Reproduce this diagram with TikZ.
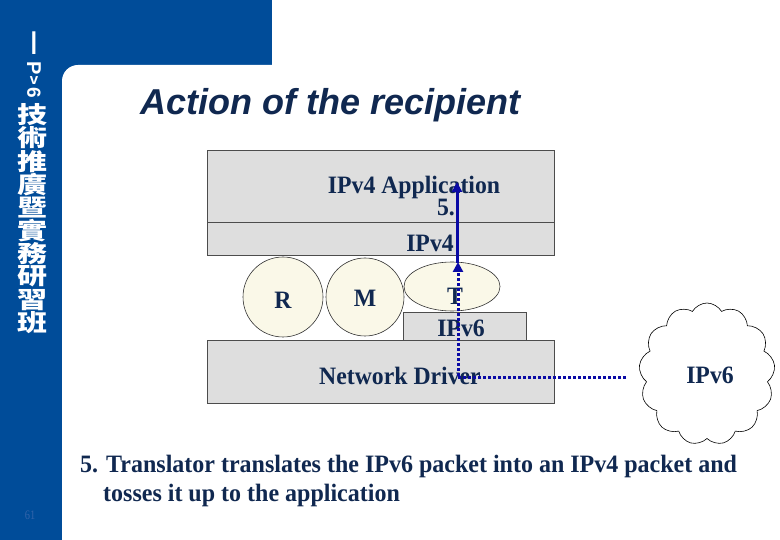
\documentclass[tikz,border=0pt]{standalone}
\usepackage{fontspec}
\setmainfont{Liberation Serif}
\newfontfamily\sansf{Liberation Sans}
\newfontfamily\condserif{Liberation Serif}[FakeStretch=0.95]
\newfontfamily\capserif{Liberation Serif}[FakeStretch=0.96]
\newfontfamily\narrowserif{Liberation Serif}[FakeStretch=0.8]
\newfontfamily\cjk{Noto Sans CJK TC}
\usetikzlibrary{shapes.geometric,shapes.symbols,arrows.meta}
\definecolor{slideblue}{RGB}{0,76,153}
\definecolor{navy}{RGB}{16,40,80}
\definecolor{arrowblue}{RGB}{10,10,165}
\definecolor{boxfill}{RGB}{222,222,222}
\definecolor{bubble}{RGB}{250,248,232}
\definecolor{pagenum}{RGB}{50,100,170}
\begin{document}
\begin{tikzpicture}[x=1pt,y=-1pt,
  layer/.style={draw=black!70, line width=0.6pt, fill=boxfill, rectangle, inner sep=0pt},
  bub/.style={draw=black!80, line width=0.6pt, fill=bubble, inner sep=0pt},
  lbl/.style={text=navy, inner sep=0pt, font=\condserif\bfseries\fontsize{25}{28}\selectfont},
  vt/.style={text=white, inner sep=0pt, font=\cjk\bfseries\fontsize{30}{30}\selectfont, yscale=0.78},
  vl/.style={text=white, inner sep=0pt, font=\sansf\bfseries\fontsize{22}{22}\selectfont},
  solidarrow/.style={draw=arrowblue, line width=3pt, -{Triangle[width=10pt,length=10pt]}},
  dotarrow/.style={draw=arrowblue, line width=3pt, dash pattern=on 3pt off 2pt, -{Triangle[width=10pt,length=10pt]}}
]
\useasboundingbox (0,0) rectangle (780,540);
\fill[white] (0,0) rectangle (780,540);
\fill[slideblue] (0,0) rectangle (272,110);
\fill[slideblue] (0,0) rectangle (62,540);
\fill[white, rounded corners=16pt] (62,65) rectangle (820,580);

% vertical side text
\node[vl, yscale=1.5, font=\sansf\bfseries\fontsize{22}{22}\selectfont] (vI) at (34,43) {I};
\node[vl, rotate=-90, font=\sansf\bfseries\fontsize{20}{20}\selectfont] (vP) at (34,68) {P};
\node[vl, font=\sansf\bfseries\fontsize{15}{15}\selectfont] (vv) at (34,81) {v};
\node[vl, rotate=-90, font=\sansf\bfseries\fontsize{19}{19}\selectfont] (v6) at (34,93) {6};
\foreach \c [count=\i from 0] in {技,術,推,廣,暨,實,務,研,習,班}{
  \node[vt] (vc\i) at (32,{115+23.1*\i}) {\c};
}
\node[text=pagenum, inner sep=0pt, font=\narrowserif\fontsize{13}{13}\selectfont] (pnum) at (30,515) {61};

% title
\node[anchor=base west, inner sep=0pt, text=navy, font=\sansf\bfseries\itshape\fontsize{36}{40}\selectfont] (title) at (140,115) {Action of the recipient};

% layers
\node[layer, minimum width=347pt, minimum height=72pt] (appbox) at (380.5,186) {};
\node[layer, minimum width=347pt, minimum height=33pt] (v4box) at (380.5,238.5) {};
\node[layer, minimum width=347pt, minimum height=63pt] (drvbox) at (380.5,371.5) {};
\node[layer, minimum width=123pt, minimum height=28pt] (v6box) at (464.5,326) {};

\node[bub, circle, minimum size=80pt] (R) at (283,297) {};
\node[bub, circle, minimum size=78pt] (M) at (365,297) {};
\node[bub, ellipse, minimum width=96pt, minimum height=49pt] (T) at (452,286.5) {};

\node[lbl] (apptxt) at (414,187) {IPv4 Application};
\node[lbl] (five) at (446,207) {5.};
\node[lbl] (v4txt) at (430,243) {IPv4};
\node[lbl] (Rtxt) at (283,300) {R};
\node[lbl] (Mtxt) at (365,298) {M};
\node[lbl] (Ttxt) at (455,296) {T};
\node[lbl] (v6txt) at (461,328) {IPv6};
\node[lbl] (drvtxt) at (400,376) {Network Driver};

% cloud
\node[cloud, draw=black, line width=0.6pt, cloud puffs=13, cloud puff arc=120, aspect=1,
      minimum width=136pt, minimum height=142pt, inner sep=0pt] (cloud) at (707,374) {};
\node[lbl] (cloudtxt) at (710,375) {IPv6};

% arrows
\coordinate (dotstart) at (626,378);
\coordinate (dotcorner) at (458,378);
\coordinate (dotend) at (458,262);
\coordinate (solidstart) at (457,263);
\coordinate (solidend) at (457,182);
\draw[solidarrow] (solidstart) -- (solidend);
\draw[dotarrow] (dotstart) -- (dotcorner) -- (dotend);

% caption
\node[anchor=base west, inner sep=0pt, text=navy, font=\capserif\bfseries\fontsize{25}{29}\selectfont] (cap1) at (80,472) {5. Translator translates the IPv6 packet into an IPv4 packet and};
\node[anchor=base west, inner sep=0pt, text=navy, font=\capserif\bfseries\fontsize{25}{29}\selectfont] (cap2) at (103,501) {tosses it up to the application};
\end{tikzpicture}
\end{document}
